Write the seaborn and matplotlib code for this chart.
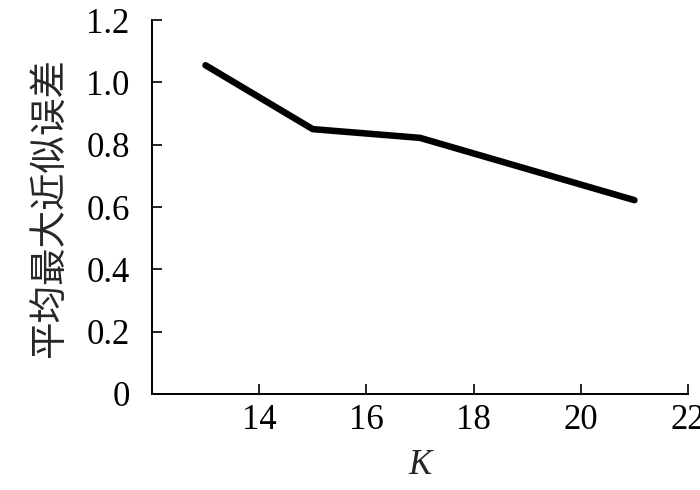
import matplotlib
matplotlib.use("Agg")
import matplotlib.pyplot as plt
import seaborn as sns
import pandas as pd

k_values = [13, 15, 17, 19, 21]
errors = [1.055, 0.85, 0.822, 0.722, 0.622]
x_ticks = [14, 16, 18, 20, 22]
y_ticks = [0, 0.2, 0.4, 0.6, 0.8, 1.0, 1.2]
y_tick_labels = ["0", "0.2", "0.4", "0.6", "0.8", "1.0", "1.2"]

sns.set_theme(style="ticks")
plt.rcParams['font.family'] = ['Liberation Serif', 'Noto Sans CJK SC']
plt.rcParams['xtick.direction'] = 'in'
plt.rcParams['ytick.direction'] = 'in'

df = pd.DataFrame({"K": k_values, "err": errors})

fig = plt.figure(figsize=(7, 4.9), dpi=100)
ax = fig.add_axes([0.217, 0.196, 0.766, 0.763])
sns.lineplot(data=df, x="K", y="err", ax=ax, color="black", linewidth=4.7,
             solid_capstyle="round", solid_joinstyle="round")

ax.set_xlim(12, 22)
ax.set_ylim(0, 1.2)
ax.set_xticks(x_ticks)
ax.set_xticklabels([str(t) for t in x_ticks])
ax.set_yticks(y_ticks)
ax.set_yticklabels(y_tick_labels)
ax.tick_params(direction="in", length=7, width=1.2, labelsize=25, colors="black")
ax.tick_params(axis="x", pad=7)
ax.tick_params(axis="y", pad=16)
for side in ["top", "right"]:
    ax.spines[side].set_visible(False)
for side in ["left", "bottom"]:
    ax.spines[side].set_linewidth(1.4)
    ax.spines[side].set_color("black")

ax.set_xlabel("")
ax.set_ylabel("")
fig.text(420 / 700, 1 - 465 / 490, "K", fontsize=25, style="italic",
         family="Liberation Serif", ha="center", va="center")
fig.text(50 / 700, 1 - 208 / 490, "平均最大近似误差", fontsize=27,
         family=["Noto Sans CJK SC"], rotation=90, ha="center", va="center")

fig.savefig("out.png", dpi=100)
